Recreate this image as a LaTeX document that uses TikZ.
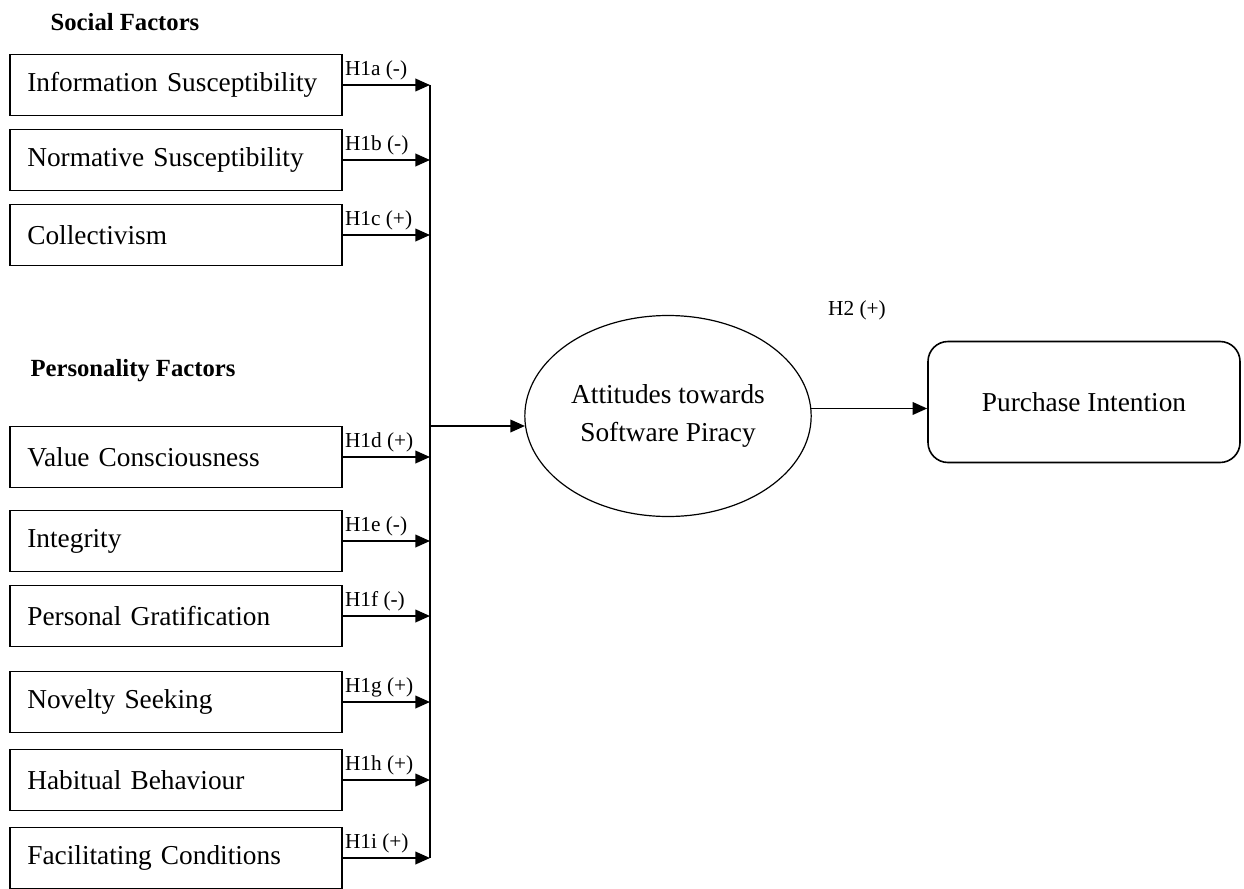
\documentclass[tikz,border=0pt]{standalone}
\usepackage{fontspec}
\setmainfont{Liberation Serif}
\usetikzlibrary{shapes.geometric,arrows.meta,positioning,calc}

\begin{document}
\begin{tikzpicture}[
    x=0.75pt, y=-0.75pt,
    factor/.style={draw, line width=1.2pt, minimum width=249pt, minimum height=45.75pt,
                   text width=223pt, inner xsep=13pt, align=left, font=\fontsize{20.5}{24}\selectfont},
    group/.style={font=\bfseries\fontsize{18.5}{22}\selectfont},
    hyp/.style={anchor=south west, inner sep=1pt, yshift=2pt, font=\fontsize{16}{19}\selectfont},
    arrow/.style={-{Triangle[length=11pt,width=9.5pt]}, line width=1.3pt}
]
  \useasboundingbox (0,0) rectangle (1244,888);

  % Group headings
  \node[group] (social) at (125,22) {Social Factors};
  \node[group] (personal) at (133,371) {Personality Factors};

  % Social factors
  \node[factor] (info) at (176,85) {Information Susceptibility};
  \node[factor] (norm) at (176,160) {Normative Susceptibility};
  \node[factor] (coll) at (176,235) {Collectivism};

  % Personality factors
  \node[factor] (value) at (176,457) {Value Consciousness};
  \node[factor] (integ) at (176,541) {Integrity};
  \node[factor] (grat) at (176,616) {Personal Gratification};
  \node[factor] (novel) at (176,702) {Novelty Seeking};
  \node[factor] (habit) at (176,780) {Habitual Behaviour};
  \node[factor] (facil) at (176,858) {Facilitating Conditions};

  % Attitude and intention
  \node[ellipse, draw, line width=0.9pt, minimum width=210pt, minimum height=150.75pt,
        align=center, font=\fontsize{20.5}{28}\selectfont] (att) at (668,416)
        {Attitudes towards\\Software Piracy};
  \node[draw, line width=1.2pt, rounded corners=15pt, minimum width=234pt, minimum height=90.75pt,
        font=\fontsize{20.5}{24}\selectfont] (purch) at (1084,402) {Purchase Intention};

  % Collecting line
  \coordinate (bustop) at (430,85);
  \coordinate (busbot) at (430,858);
  \draw[line width=1.3pt] (bustop) -- (busbot);

  % Hypotheses H1a--H1i
  \draw[arrow] (info.east)  node[hyp]{H1a (-)} -- (info.east -| bustop);
  \draw[arrow] (norm.east)  node[hyp]{H1b (-)} -- (norm.east -| bustop);
  \draw[arrow] (coll.east)  node[hyp]{H1c (+)} -- (coll.east -| bustop);
  \draw[arrow] (value.east) node[hyp]{H1d (+)} -- (value.east -| bustop);
  \draw[arrow] (integ.east) node[hyp]{H1e (-)} -- (integ.east -| bustop);
  \draw[arrow] (grat.east)  node[hyp]{H1f (-)} -- (grat.east -| bustop);
  \draw[arrow] (novel.east) node[hyp]{H1g (+)} -- (novel.east -| bustop);
  \draw[arrow] (habit.east) node[hyp]{H1h (+)} -- (habit.east -| bustop);
  \draw[arrow] (facil.east) node[hyp]{H1i (+)} -- (facil.east -| bustop);

  \draw[arrow] (att.184 -| bustop) -- (att.184);

  % H2
  \draw[arrow] (att.3) -- (att.3 -| purch.west);
  \node[font=\fontsize{16}{19}\selectfont] (h2) at (857,310) {H2 (+)};

\end{tikzpicture}
\end{document}
